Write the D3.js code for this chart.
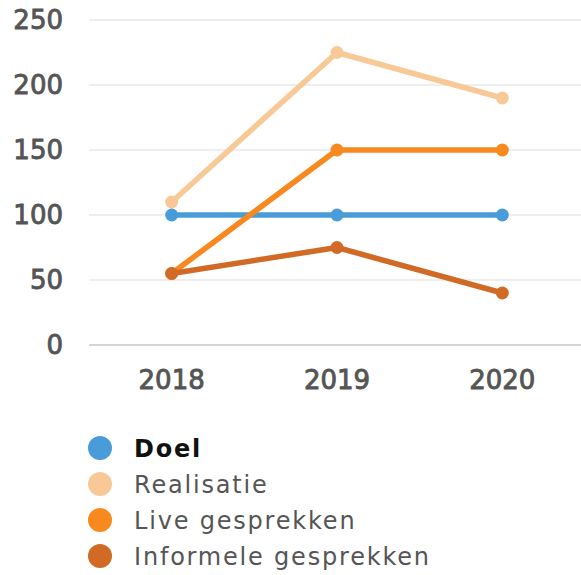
<!DOCTYPE html>
<html>
<head>
<meta charset="utf-8">
<script src="https://cdn.jsdelivr.net/npm/d3@7"></script>
<style>
  html, body { margin: 0; padding: 0; background: #fff; }
  svg text { font-family: "DejaVu Sans", sans-serif; }
</style>
</head>
<body>
<svg id="chart" width="581" height="575"></svg>
<script>
const years = ['2018', '2019', '2020'];
const yTicks = [0, 50, 100, 150, 200, 250];
const seriesNames = ['Doel', 'Realisatie', 'Live gesprekken', 'Informele gesprekken'];
const seriesColors = ['#4a9bd9', '#f8c996', '#f7891f', '#d06a25'];
const doel = [100, 100, 100];
const realisatie = [110, 225, 190];
const live = [55, 150, 150];
const informeel = [55, 75, 40];

const seriesValues = [doel, realisatie, live, informeel];

const svg = d3.select('#chart');
const margin = { left: 89, top: 20 };
const width = 581;

const x = d3.scaleBand()
  .domain(years)
  .range([margin.left, 585]);

const y = d3.scaleLinear()
  .domain([0, 250])
  .range([345, margin.top]);

// gridlines
svg.append('g')
  .selectAll('line')
  .data(yTicks)
  .join('line')
  .attr('x1', margin.left)
  .attr('x2', width)
  .attr('y1', d => y(d))
  .attr('y2', d => y(d))
  .attr('stroke', d => d === 0 ? '#d6d6d6' : '#eeeeee')
  .attr('stroke-width', 2);

// y labels
svg.append('g')
  .selectAll('text')
  .data(yTicks)
  .join('text')
  .attr('x', 63)
  .attr('y', d => y(d))
  .attr('dy', '0.36em')
  .attr('text-anchor', 'end')
  .attr('font-size', 26)
  .attr('fill', '#555')
  .attr('stroke', '#555')
  .attr('stroke-width', 0.9)
  .text(d => d);

// x labels
svg.append('g')
  .selectAll('text')
  .data(years)
  .join('text')
  .attr('x', d => x(d) + x.bandwidth() / 2)
  .attr('y', 380)
  .attr('dy', '0.36em')
  .attr('text-anchor', 'middle')
  .attr('font-size', 26)
  .attr('fill', '#555')
  .attr('stroke', '#555')
  .attr('stroke-width', 0.9)
  .text(d => d);

const cx = d => x(d) + x.bandwidth() / 2;
const line = d3.line()
  .x((d, i) => cx(years[i]))
  .y(d => y(d));

const series = seriesValues.map((vals, i) => ({ name: seriesNames[i], color: seriesColors[i], vals }));

// draw order: Realisatie, Doel, Live, Informele
const drawOrder = [1, 0, 2, 3];
drawOrder.forEach(k => {
  const s = series[k];
  const g = svg.append('g');
  g.append('path')
    .attr('d', line(s.vals))
    .attr('fill', 'none')
    .attr('stroke', s.color)
    .attr('stroke-width', 5.5)
    .attr('stroke-linejoin', 'round');
  g.selectAll('circle')
    .data(s.vals)
    .join('circle')
    .attr('cx', (d, i) => cx(years[i]))
    .attr('cy', d => y(d))
    .attr('r', 6.5)
    .attr('fill', s.color);
});

// legend
const legend = svg.append('g')
  .selectAll('g')
  .data(series)
  .join('g')
  .attr('transform', (d, i) => `translate(100, ${448 + i * 36})`);

legend.append('circle')
  .attr('r', 12)
  .attr('fill', d => d.color);

legend.append('text')
  .attr('x', 34)
  .attr('dy', '0.36em')
  .attr('font-size', 24)
  .attr('letter-spacing', 1.8)
  .attr('font-weight', (d, i) => i === 0 ? 'bold' : 'normal')
  .attr('fill', (d, i) => i === 0 ? '#111' : '#555')
  .text(d => d.name);
</script>
</body>
</html>
